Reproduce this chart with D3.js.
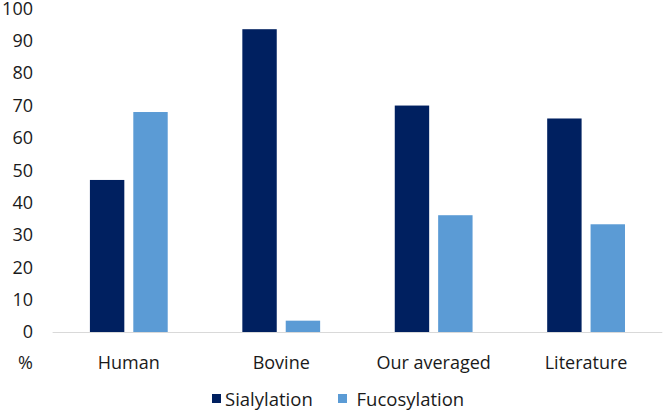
<!DOCTYPE html>
<html>
<head>
<meta charset="utf-8">
<script src="https://cdn.jsdelivr.net/npm/d3@7"></script>
<style>
  body { margin: 0; background: #fff; }
  text { font-family: "Open Sans", sans-serif; fill: #1a1a1a; }
</style>
</head>
<body>
<div id="chart"></div>
<script>
// data
var categories = ["Human", "Bovine", "Our averaged", "Literature"];
var seriesNames = ["Sialylation", "Fucosylation"];
var sialylation = [47, 93.6, 70, 66];
var fucosylation = [68, 3.5, 36.1, 33.3];
var yTicks = [0, 10, 20, 30, 40, 50, 60, 70, 80, 90, 100];
var colors = ["#002060", "#5b9bd5"];

var width = 663, height = 411;

var svg = d3.select("#chart")
  .append("svg")
    .attr("width", width)
    .attr("height", height);

var x = d3.scaleBand()
  .domain(categories)
  .range([52.6, 662.3])
  .padding(0);

var groupW = 77.8;
var xSub = d3.scaleBand()
  .domain(seriesNames)
  .range([0, groupW])
  .paddingInner(0.207)
  .paddingOuter(0);

var y = d3.scaleLinear()
  .domain([0, 100])
  .range([332, 8.5]);

// y axis labels only
var yAxis = svg.append("g")
  .attr("transform", "translate(36,0)")
  .call(d3.axisLeft(y).tickValues(yTicks).tickSize(0).tickPadding(3));
yAxis.select(".domain").remove();
yAxis.selectAll("text")
  .style("font-family", "'Open Sans', sans-serif")
  .style("font-size", "18px")
  .attr("fill", "#1a1a1a");

// baseline
svg.append("line")
  .attr("x1", x.range()[0]).attr("x2", x.range()[1])
  .attr("y1", y(0) + 0.5).attr("y2", y(0) + 0.5)
  .style("stroke", "#d9d9d9")
  .style("stroke-width", 1);

var rows = categories.map(function(c, i) {
  return {cat: c, values: [sialylation[i], fucosylation[i]]};
});

var groups = svg.selectAll("g.grp")
  .data(rows)
  .enter()
  .append("g")
  .attr("class", "grp")
  .attr("transform", function(d) {
    return "translate(" + (x(d.cat) + (x.bandwidth() - groupW) / 2) + ",0)";
  });

groups.selectAll("rect")
  .data(function(d) { return d.values.map(function(v, j) { return {s: seriesNames[j], v: v, j: j}; }); })
  .enter()
  .append("rect")
  .attr("x", function(d) { return xSub(d.s); })
  .attr("width", xSub.bandwidth())
  .attr("y", function(d) { return y(d.v); })
  .attr("height", function(d) { return y(0) - y(d.v); })
  .style("fill", function(d) { return colors[d.j]; });

// category labels
svg.selectAll("text.cat")
  .data(categories)
  .enter()
  .append("text")
  .attr("class", "cat")
  .attr("x", function(d) { return x(d) + x.bandwidth() / 2; })
  .attr("y", 368.5)
  .attr("text-anchor", "middle")
  .style("font-size", "18px")
  .text(function(d) { return d; });

// unit
svg.append("text")
  .attr("x", 33)
  .attr("y", 368.5)
  .attr("text-anchor", "end")
  .style("font-size", "18px")
  .text("%");

// legend
var legendX = [212, 338];
var legendGap = [13, 18.5];
var legend = svg.selectAll("g.leg")
  .data(seriesNames)
  .enter()
  .append("g")
  .attr("class", "leg")
  .attr("transform", function(d, i) { return "translate(" + legendX[i] + ",0)"; });

legend.append("rect")
  .attr("x", 0).attr("y", 394)
  .attr("width", 9).attr("height", 9)
  .style("fill", function(d, i) { return colors[i]; });

legend.append("text")
  .attr("x", function(d, i) { return legendGap[i]; })
  .attr("y", 405.5)
  .style("font-size", "18.5px")
  .text(function(d) { return d; });
</script>
</body>
</html>
